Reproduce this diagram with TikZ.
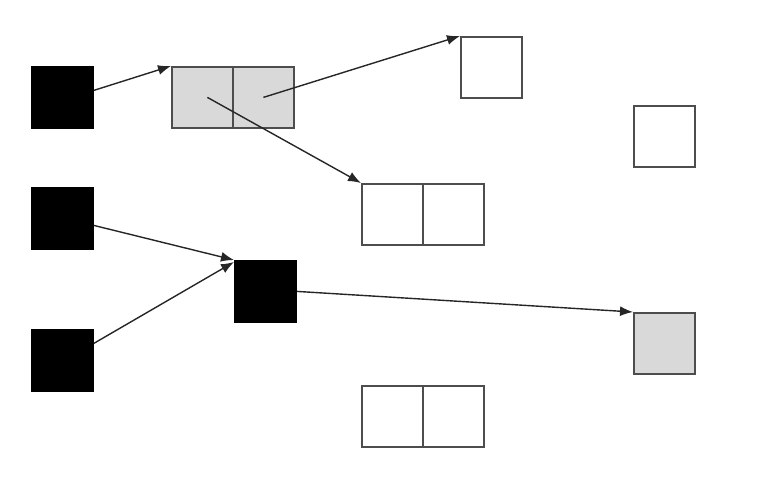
\documentclass[tikz,border=0pt]{standalone}
\usetikzlibrary{arrows.meta}
\definecolor{boxline}{HTML}{4D4D4D}
\definecolor{lightfill}{HTML}{D9D9D9}
\tikzset{
  cell/.style={draw=boxline, line width=1.8pt, minimum size=61pt, inner sep=0pt, anchor=north west},
  blk/.style={cell, draw=black, fill=black},
  gry/.style={cell, fill=lightfill},
  wht/.style={cell, fill=white},
  conn/.style={draw=black!85, line width=1.4pt, -{Latex[length=13pt,width=10pt]}}
}
\begin{document}
\begin{tikzpicture}[x=1pt,y=-1pt]
\useasboundingbox (0,0) rectangle (770,476);
% black squares
\node[blk] (b1) at (31,66) {};
\node[blk] (b2) at (31,187) {};
\node[blk] (b3) at (31,329) {};
\node[blk] (b4) at (234,260) {};
% gray double box
\node[gry] (g1) at (171,66) {};
\node[gry] (g2) at (232,66) {};
% white squares
\node[wht] (w1) at (460,36) {};
\node[wht] (w2) at (633,105) {};
% white double boxes
\node[wht] (d1) at (361,183) {};
\node[wht] (d2) at (422,183) {};
\node[wht] (e1) at (361,385) {};
\node[wht] (e2) at (422,385) {};
% gray square
\node[gry] (gs) at (633,312) {};
% connectors
\draw[conn] ([yshift=7pt]b1.east) -- (g1.north west);
\draw[conn] (g2.center) -- (w1.north west);
\draw[conn] ([xshift=5pt]g1.center) -- (d1.north west);
\draw[conn] ([yshift=-7pt]b2.east) -- (b4.north west);
\draw[conn] ([yshift=17pt]b3.east) -- ([yshift=-2pt]b4.north west);
\draw[conn] (b4.east) -- (gs.north west);
\end{tikzpicture}
\end{document}
